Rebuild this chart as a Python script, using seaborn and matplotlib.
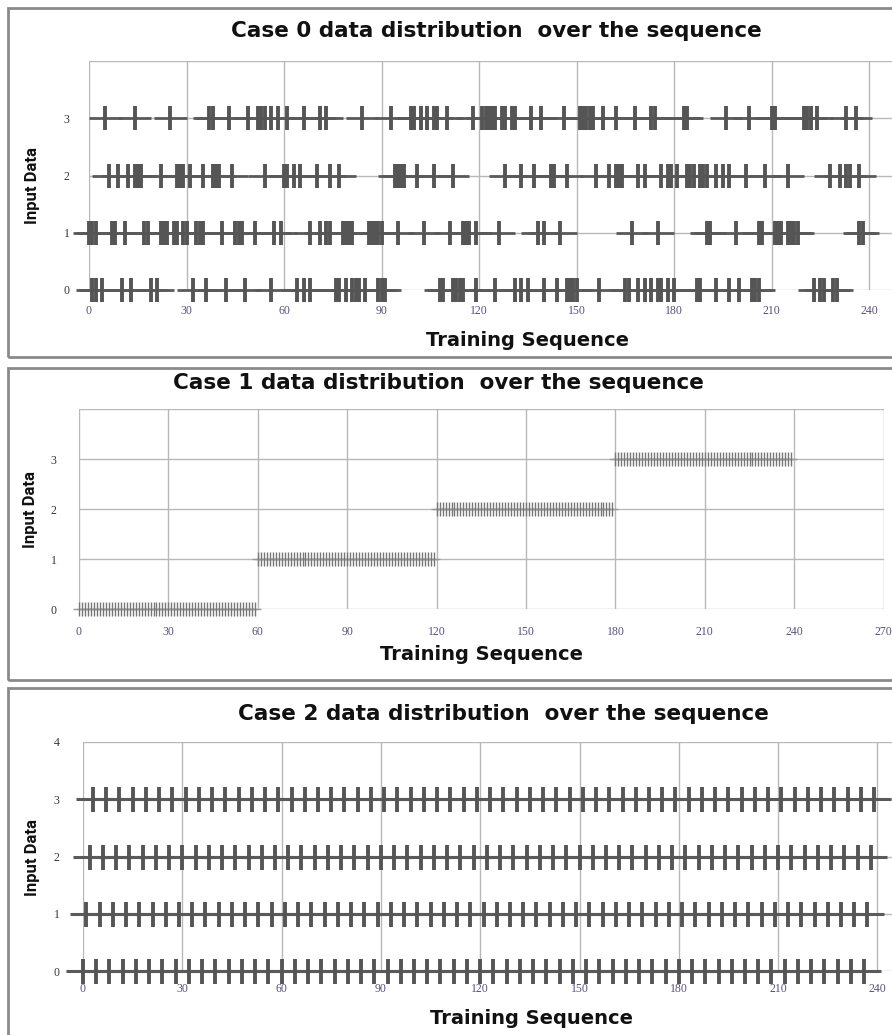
import matplotlib
matplotlib.use("Agg")
import matplotlib.pyplot as plt
from matplotlib.patches import Rectangle
import seaborn as sns
import pandas as pd

# ---------------- data ----------------
# Case 0: positions in the training sequence where each input value occurs
case0_level0 = [1, 2, 4, 10, 13, 19, 21, 32, 36, 42, 48, 56, 64, 66, 68, 76, 77, 79, 81, 82,
                83, 85, 89, 90, 91, 108, 109, 112, 113, 114, 115, 119, 125, 131, 133, 135,
                140, 144, 147, 148, 149, 150, 157, 165, 166, 169, 171, 173, 175, 176, 178,
                180, 187, 188, 193, 197, 200, 204, 205, 206, 223, 225, 226, 229, 230]
case0_level1 = [0, 1, 2, 7, 8, 11, 17, 18, 22, 23, 24, 26, 27, 29, 30, 33, 34, 35, 41, 45,
                46, 47, 51, 57, 59, 68, 71, 73, 74, 78, 79, 80, 81, 86, 87, 88, 89, 90, 95,
                103, 111, 115, 116, 117, 119, 126, 138, 140, 145, 167, 175, 190, 191, 199,
                206, 207, 211, 212, 213, 215, 216, 217, 218, 237, 238]
case0_level2 = [6, 9, 12, 14, 15, 16, 22, 27, 28, 29, 31, 35, 38, 39, 40, 44, 54, 60, 61, 63,
                65, 70, 74, 77, 94, 95, 96, 97, 101, 106, 112, 128, 133, 137, 142, 143, 147,
                156, 160, 162, 163, 164, 169, 171, 176, 178, 179, 181, 184, 185, 186, 188,
                189, 190, 193, 195, 197, 202, 208, 215, 228, 231, 233, 234, 237]
case0_level3 = [5, 14, 25, 37, 38, 43, 49, 52, 53, 54, 56, 58, 61, 66, 71, 73, 84, 93, 99,
                100, 102, 104, 106, 107, 110, 118, 121, 122, 123, 124, 125, 127, 128, 130,
                131, 136, 139, 146, 151, 152, 153, 154, 155, 158, 162, 168, 173, 174, 183,
                184, 196, 203, 210, 211, 220, 221, 222, 224, 233, 236]

# Case 1 / Case 2: one input per step of a 240-step sequence
sequence = list(range(240))
case1_input = [0] * 60 + [1] * 60 + [2] * 60 + [3] * 60
case2_input = [0, 1, 2, 3] * 60

x_ticks = [0, 30, 60, 90, 120, 150, 180, 210, 240, 270]
y_ticks = [0, 1, 2, 3, 4]
x_ticklabels_full = ["0", "30", "60", "90", "120", "150", "180", "210", "240", "270"]
x_ticklabels_cut = ["0", "30", "60", "90", "120", "150", "180", "210", "240", ""]

titles = ["Case 0 data distribution  over the sequence",
          "Case 1 data distribution  over the sequence",
          "Case 2 data distribution  over the sequence"]
x_label = "Training Sequence"
y_label = "Input Data"

# ---------------- style ----------------
sns.set_theme(style="white")
plt.rcParams["font.family"] = ["DejaVu Sans"]

W, H = 892, 1035
fig = plt.figure(figsize=(W / 100, H / 100), dpi=100)
fig.patch.set_facecolor("white")


def fx(px):
    return px / W


def fy(py):
    return 1 - py / H


def panel_box(top, bottom):
    r = Rectangle((fx(8), fy(bottom)), fx(W + 20), (bottom - top) / H,
                  transform=fig.transFigure, fill=False, ec="#8a8a8a", lw=2.0)
    fig.add_artist(r)


def make_axes(left, px_per_unit, top, bottom):
    width = 270 * px_per_unit
    ax = fig.add_axes([fx(left), fy(bottom), width / W, (bottom - top) / H])
    ax.set_xlim(0, 270)
    ax.set_ylim(0, 4)
    for s in ax.spines.values():
        s.set_visible(False)
    ax.set_xticks(x_ticks)
    ax.set_yticks(y_ticks)
    ax.grid(True, color="#b8b8b8", lw=1.0)
    ax.set_axisbelow(True)
    ax.tick_params(length=0)
    return ax


def draw(ax, df, err, ms, mew, elw, color, ecolor):
    ax.hlines(df["y"], df["x"] - err, df["x"] + err, color=ecolor, lw=elw,
              clip_on=False, zorder=2)
    sns.scatterplot(data=df, x="x", y="y", marker="|", s=ms ** 2, linewidth=mew,
                    color=color, ax=ax, clip_on=False, zorder=3, legend=False)
    ax.set_xlabel("")
    ax.set_ylabel("")


tick_font = dict(family=["Liberation Serif", "DejaVu Serif"], size=8.5)

# ---------- Panel 1 : Case 0 ----------
panel_box(8, 357)
ax0 = make_axes(89, 3.25, 61, 290)
df0 = pd.concat([
    pd.DataFrame({"x": case0_level0, "y": 0}),
    pd.DataFrame({"x": case0_level1, "y": 1}),
    pd.DataFrame({"x": case0_level2, "y": 2}),
    pd.DataFrame({"x": case0_level3, "y": 3}),
], ignore_index=True)
draw(ax0, df0, 5, 17, 2.8, 2.0, "#555555", "#5a5a5a")
ax0.set_xticklabels(x_ticklabels_cut, color="#5b4f7a", **tick_font)
ax0.set_yticklabels(["0", "1", "2", "3", ""], color="#333333", **tick_font)
ax0.tick_params(axis="x", pad=11)
ax0.tick_params(axis="y", pad=14)

# ---------- Panel 2 : Case 1 ----------
panel_box(368, 680)
ax1 = make_axes(79, 2.98, 409, 609)
df1 = pd.DataFrame({"x": sequence, "y": case1_input})
draw(ax1, df1, 2, 10, 1.0, 1.0, "#777777", "#9a9a9a")
ax1.set_xticklabels(x_ticklabels_full, color="#5b4f7a", **tick_font)
ax1.set_yticklabels(["0", "1", "2", "3", ""], color="#333333", **tick_font)
ax1.tick_params(axis="x", pad=12)
ax1.tick_params(axis="y", pad=16)

# ---------- Panel 3 : Case 2 ----------
panel_box(688, 1060)
ax2 = make_axes(83, 3.31, 742, 971)
df2 = pd.DataFrame({"x": sequence, "y": case2_input})
draw(ax2, df2, 5, 18, 2.8, 2.2, "#555555", "#5a5a5a")
ax2.set_xticklabels(x_ticklabels_cut, color="#5b4f7a", **tick_font)
ax2.set_yticklabels(["0", "1", "2", "3", "4"], color="#333333", **tick_font)
ax2.tick_params(axis="x", pad=9)
ax2.tick_params(axis="y", pad=17)

# ---------- texts ----------
title_pos = [(496, 31), (438, 383), (503, 714)]
xlab_pos = [(528, 341), (482, 655), (531, 1019)]
ylab_pos = [(33, 185), (30, 510), (32, 858)]
for t, (tx, ty) in zip(titles, title_pos):
    fig.text(fx(tx), fy(ty), t, ha="center", va="center", fontsize=15.5,
             fontweight="bold", color="#111111")
for (tx, ty) in xlab_pos:
    fig.text(fx(tx), fy(ty), x_label, ha="center", va="center", fontsize=14,
             fontweight="bold", color="#111111")
for (tx, ty) in ylab_pos:
    fig.text(fx(tx), fy(ty), y_label, ha="center", va="center", fontsize=12,
             fontweight="bold", rotation=90, color="#111111",
             family=["Liberation Sans Narrow", "Roboto", "DejaVu Sans"])

fig.savefig("out.png", dpi=100)
